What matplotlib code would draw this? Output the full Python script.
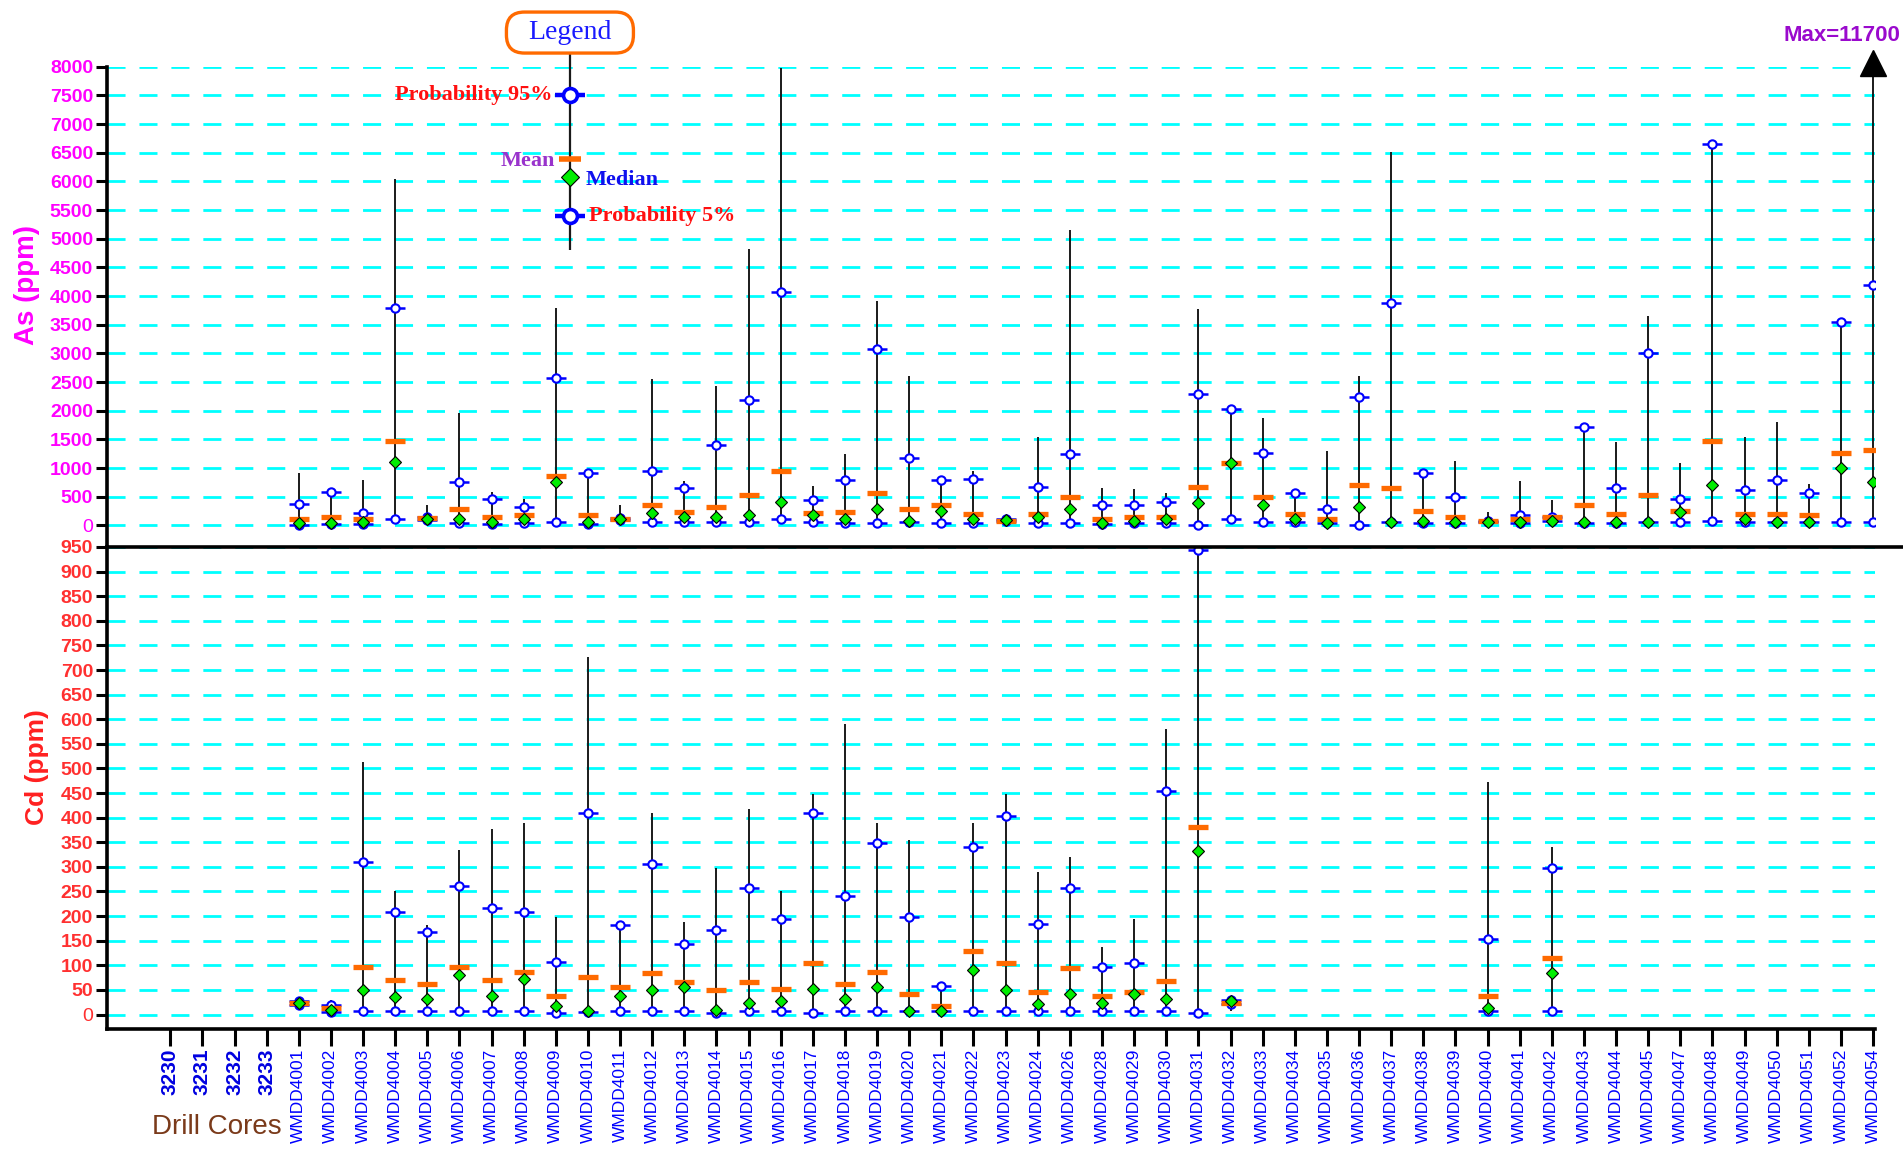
import numpy as np
import matplotlib
matplotlib.use("Agg")
import matplotlib.pyplot as plt
from matplotlib import font_manager
from matplotlib.lines import Line2D
from matplotlib.patches import FancyBboxPatch

plt.rcParams['lines.scale_dashes'] = False

# pick a condensed face when the system has one
_names = {f.name for f in font_manager.fontManager.ttflist}
NARROW = 'Liberation Sans Narrow' if 'Liberation Sans Narrow' in _names else 'Liberation Sans'
SANS = 'Liberation Sans'
SERIF = 'Liberation Serif'

nan = np.nan

cores = ['3230', '3231', '3232', '3233',
         'WMDD4001', 'WMDD4002', 'WMDD4003', 'WMDD4004', 'WMDD4005', 'WMDD4006',
         'WMDD4007', 'WMDD4008', 'WMDD4009', 'WMDD4010', 'WMDD4011', 'WMDD4012',
         'WMDD4013', 'WMDD4014', 'WMDD4015', 'WMDD4016', 'WMDD4017', 'WMDD4018',
         'WMDD4019', 'WMDD4020', 'WMDD4021', 'WMDD4022', 'WMDD4023', 'WMDD4024',
         'WMDD4026', 'WMDD4028', 'WMDD4029', 'WMDD4030', 'WMDD4031', 'WMDD4032',
         'WMDD4033', 'WMDD4034', 'WMDD4035', 'WMDD4036', 'WMDD4037', 'WMDD4038',
         'WMDD4039', 'WMDD4040', 'WMDD4041', 'WMDD4042', 'WMDD4043', 'WMDD4044',
         'WMDD4045', 'WMDD4047', 'WMDD4048', 'WMDD4049', 'WMDD4050', 'WMDD4051',
         'WMDD4052', 'WMDD4054']

# As (ppm) statistics per core
as_max = [nan, nan, nan, nan,
          920, 600, 800, 6050, 350, 1960, 590, 470, 3800, 920,
          360, 2550, 770, 2430, 4830, 7980, 690, 1240, 3910, 2600,
          800, 950, 150, 1540, 5160, 660, 630, 570, 3770, 2050,
          1880, 570, 1300, 2600, 6520, 920, 1120, 230, 770, 450,
          1720, 1450, 3650, 1090, 6660, 1540, 1810, 720, 3600, 11700]
as_p95 = [nan, nan, nan, nan,
          380, 590, 210, 3790, 150, 760, 470, 320, 2580, 910,
          130, 950, 645, 1410, 2190, 4080, 440, 790, 3080, 1180,
          790, 815, 110, 675, 1240, 350, 350, 410, 2300, 2040,
          1270, 570, 290, 2245, 3880, 910, 500, 80, 175, 140,
          1715, 645, 3010, 470, 6660, 615, 790, 560, 3550, 4200]
as_mean = [nan, nan, nan, nan,
           115, 145, 115, 1480, 130, 290, 145, 180, 855, 180,
           115, 360, 240, 320, 535, 950, 210, 235, 560, 290,
           350, 200, 85, 200, 495, 105, 140, 140, 675, 1090,
           495, 205, 105, 705, 645, 260, 140, 80, 115, 140,
           350, 205, 525, 260, 1480, 205, 205, 175, 1270, 1325]
as_median = [nan, nan, nan, nan,
             35, 45, 60, 1115, 115, 105, 60, 115, 765, 60,
             105, 210, 155, 140, 175, 415, 175, 115, 290, 75,
             250, 115, 100, 140, 290, 45, 75, 105, 385, 1095,
             355, 115, 45, 325, 60, 80, 60, 60, 60, 80,
             60, 60, 60, 235, 705, 115, 60, 60, 1000, 760]
as_p5 = [nan, nan, nan, nan,
         15, 20, 30, 115, 100, 45, 25, 45, 55, 30,
         95, 55, 55, 55, 55, 115, 55, 45, 45, 55,
         45, 45, 75, 45, 45, 30, 45, 45, 15, 115,
         55, 55, 40, 15, 55, 45, 45, 55, 50, 70,
         35, 50, 55, 55, 85, 55, 55, 55, 55, 55]
as_min = [nan, nan, nan, nan,
          0, 5, 5, 100, 90, 10, 5, 10, 40, 5,
          80, 20, 40, 30, 30, 100, 40, 20, 20, 30,
          20, 20, 60, 20, 20, 10, 20, 20, 5, 100,
          30, 30, 20, 5, 30, 20, 20, 40, 30, 50,
          20, 30, 30, 30, 60, 30, 30, 30, 30, 30]

# Cd (ppm) statistics per core
cd_max = [nan, nan, nan, nan,
          30, 29, 514, 251, 181, 334, 376, 390, 199, 727,
          186, 410, 189, 298, 417, 251, 448, 590, 390, 354,
          59, 390, 448, 290, 320, 137, 195, 580, 944, 33,
          nan, nan, nan, nan, nan, nan, nan, 473, nan, 341,
          nan, nan, nan, nan, nan, nan, nan, nan, nan, nan]
cd_p95 = [nan, nan, nan, nan,
          27, 20, 309, 208, 167, 261, 216, 208, 107, 410,
          181, 305, 143, 171, 257, 195, 410, 240, 348, 198,
          59, 340, 403, 184, 257, 97, 104, 454, 944, 30,
          nan, nan, nan, nan, nan, nan, nan, 153, nan, 298,
          nan, nan, nan, nan, nan, nan, nan, nan, nan, nan]
cd_mean = [nan, nan, nan, nan,
           24, 14, 97, 70, 63, 97, 70, 87, 38, 77,
           56, 84, 66, 49, 66, 52, 104, 63, 87, 41,
           17, 129, 104, 45, 94, 38, 45, 69, 382, 24,
           nan, nan, nan, nan, nan, nan, nan, 38, nan, 115,
           nan, nan, nan, nan, nan, nan, nan, nan, nan, nan]
cd_median = [nan, nan, nan, nan,
             24, 10, 49, 35, 31, 80, 38, 73, 17, 7,
             38, 49, 56, 10, 24, 28, 52, 31, 56, 7,
             7, 90, 49, 21, 41, 24, 41, 31, 333, 28,
             nan, nan, nan, nan, nan, nan, nan, 14, nan, 84,
             nan, nan, nan, nan, nan, nan, nan, nan, nan, nan]
cd_p5 = [nan, nan, nan, nan,
         20, 6, 7, 7, 7, 7, 7, 7, 3, 5,
         7, 7, 7, 3, 7, 7, 3, 7, 7, 7,
         7, 7, 7, 7, 7, 7, 7, 7, 3, 22,
         nan, nan, nan, nan, nan, nan, nan, 7, nan, 7,
         nan, nan, nan, nan, nan, nan, nan, nan, nan, nan]
cd_min = [nan, nan, nan, nan,
          12, 2, 2, 2, 2, 2, 2, 2, 1, 1,
          2, 2, 2, 1, 2, 2, 1, 2, 2, 2,
          2, 2, 2, 2, 2, 2, 2, 2, 0, 7,
          nan, nan, nan, nan, nan, nan, nan, 2, nan, 2,
          nan, nan, nan, nan, nan, nan, nan, nan, nan, nan]

as_ticks = list(range(0, 8001, 500))
cd_ticks = list(range(0, 951, 50))
AS_TOP = 8000

BLUE = '#0000FF'
ORANGE = '#FF6A00'
GREEN = '#00EE00'
CYAN = '#00FFFF'
MAGENTA = '#FF00FF'
RED = '#FF3030'


def draw_stats(ax, vmin, vmax, p5, p95, mean, median):
    x = np.arange(len(cores))
    vmin, vmax = np.array(vmin, float), np.array(vmax, float)
    ok = ~np.isnan(vmax)
    ax.vlines(x[ok], vmin[ok], vmax[ok], color='#1a1a1a', lw=1.4, zorder=3)
    for q in (p95, p5):
        ax.plot(x, q, ls='none', marker='_', ms=14, mew=1.8, color=BLUE, zorder=4)
        ax.plot(x, q, ls='none', marker='o', ms=6, mfc='white', mec=BLUE, mew=1.5, zorder=4)
    ax.plot(x, mean, ls='none', marker='_', ms=15, mew=3.8, color=ORANGE, zorder=5)
    ax.plot(x, median, ls='none', marker='D', ms=6, mfc=GREEN, mec='black', mew=0.8, zorder=6)


def style_y(ax, ticks, color):
    ax.set_yticks(ticks)
    ax.set_yticklabels([str(t) for t in ticks])
    ax.tick_params(axis='y', direction='out', length=8, width=2.2, pad=2,
                   labelsize=14, labelcolor=color, color='black')
    for lbl in ax.get_yticklabels():
        lbl.set_fontfamily(NARROW)
        lbl.set_fontweight('bold')
    ax.get_yticklabels()[0].set_fontweight('normal')
    ax.grid(axis='y', color=CYAN, lw=2.0, ls=(0, (13, 10)))
    ax.set_axisbelow(True)
    for s in ('top', 'right', 'bottom'):
        ax.spines[s].set_visible(False)
    ax.spines['left'].set_linewidth(2.6)


fig = plt.figure(figsize=(19.03, 11.52), dpi=100)
L, W = 0.0562, 0.9291
ax1 = fig.add_axes([L, 0.5252, W, 0.4168])
ax2 = fig.add_axes([L, 0.1068, W, 0.4184])

xlim = (-1.97, 53.06)
for ax in (ax1, ax2):
    ax.set_xlim(*xlim)

# As panel
ax1.set_ylim(-375, AS_TOP)
style_y(ax1, as_ticks, MAGENTA)
ax1.tick_params(axis='x', bottom=False, labelbottom=False)
draw_stats(ax1, as_min, as_max, as_p5, as_p95, as_mean, as_median)

# off-scale maximum marked with an arrow
for i, v in enumerate(as_max):
    if v > AS_TOP:
        ax1.plot([i], [AS_TOP + 60], marker='^', ms=19, color='black',
                 clip_on=False, zorder=7)
        ax1.text(i + 0.85, AS_TOP + 540, 'Max=%d' % v, color='#9A0ACD',
                 fontsize=16, fontweight='bold', family=NARROW,
                 ha='right', va='center', clip_on=False)

# Cd panel
ax2.set_ylim(-29.3, 950)
style_y(ax2, cd_ticks, RED)
ax2.spines['bottom'].set_visible(True)
ax2.spines['bottom'].set_linewidth(2.6)
draw_stats(ax2, cd_min, cd_max, cd_p5, cd_p95, cd_mean, cd_median)

ax2.set_xticks(np.arange(len(cores)))
ax2.set_xticklabels(cores, rotation=90, va='top', ha='center')
ax2.tick_params(axis='x', direction='out', length=12, width=2.2, pad=2, color='black')
for lbl in ax2.get_xticklabels():
    if lbl.get_text().startswith('WMDD'):
        lbl.set_fontsize(12.5)
        lbl.set_color(BLUE)
        lbl.set_fontfamily(SANS)
    else:
        lbl.set_fontsize(15)
        lbl.set_fontweight('bold')
        lbl.set_color('#0000E0')
        lbl.set_fontfamily(SANS)

# line separating the two panels
fig.add_artist(Line2D([L, 1.0], [0.5252, 0.5252], transform=fig.transFigure,
                      color='black', lw=2.6))

fig.text(0.0142, 0.7526, 'As (ppm)', rotation=90, color=MAGENTA, fontsize=20,
         fontweight='bold', family=SANS, ha='center', va='center')
fig.text(0.0195, 0.3342, 'Cd (ppm)', rotation=90, color='#FF2020', fontsize=19,
         fontweight='bold', family=SANS, ha='center', va='center')
fig.text(0.114, 0.0217, 'Drill Cores', color='#7A3A1A', fontsize=20,
         family=NARROW, ha='center', va='center')

# legend glyph drawn inside the As panel
lx = 12.44
ax1.vlines([lx], 4800, 8240, color='#1a1a1a', lw=1.6, clip_on=False, zorder=3)
for q in (7500, 5400):
    ax1.plot([lx], [q], marker='_', ms=22, mew=3.2, color=BLUE, clip_on=False, zorder=4)
    ax1.plot([lx], [q], marker='o', ms=10, mfc='white', mec=BLUE, mew=2.6,
             clip_on=False, zorder=4)
ax1.plot([lx], [6400], marker='_', ms=16, mew=4, color=ORANGE, clip_on=False, zorder=5)
ax1.plot([lx], [6075], marker='D', ms=9, mfc=GREEN, mec='black', mew=0.8,
         clip_on=False, zorder=6)
ax1.text(lx - 0.55, 7500, 'Probability 95%', color='#FF1010', fontsize=16,
         fontweight='bold', family=SERIF, ha='right', va='center')
ax1.text(lx - 0.45, 6360, 'Mean', color='#9933CC', fontsize=16,
         fontweight='bold', family=SERIF, ha='right', va='center')
ax1.text(lx + 0.5, 6020, 'Median', color='#1010EE', fontsize=16,
         fontweight='bold', family=SERIF, ha='left', va='center')
ax1.text(lx + 0.58, 5400, 'Probability 5%', color='#FF1010', fontsize=16,
         fontweight='bold', family=SERIF, ha='left', va='center')

# rounded "Legend" box, aspect corrected so the corners stay round
fig.canvas.draw()
bb = ax1.get_window_extent()
ppx = (xlim[1] - xlim[0]) / bb.width
ppy = (AS_TOP + 375) / bb.height
bw, bh = 127 * ppx, 41 * ppy
box = FancyBboxPatch((lx - bw / 2, 8240), bw, bh,
                     boxstyle='round,pad=0,rounding_size=%f' % (18 * ppx),
                     mutation_aspect=ppy / ppx, transform=ax1.transData,
                     fc='white', ec='#FF6A00', lw=2.4, clip_on=False, zorder=8)
ax1.add_patch(box)
ax1.text(lx, 8240 + bh / 2, 'Legend', color='#1a1aff', fontsize=20, family=SERIF,
         ha='center', va='center', clip_on=False, zorder=9)

fig.savefig('out.png', dpi=100)
